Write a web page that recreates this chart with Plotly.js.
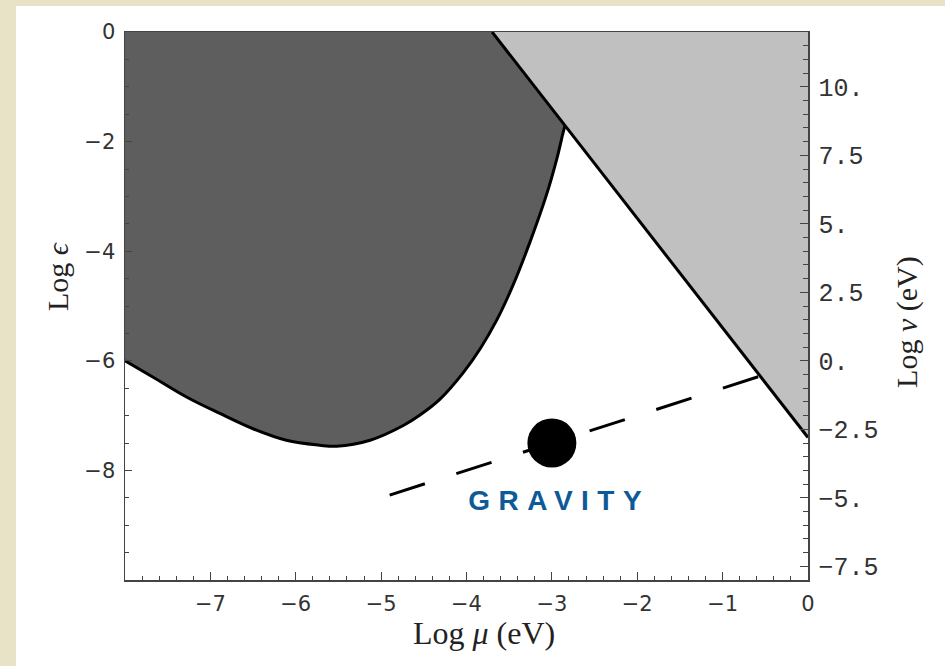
<!DOCTYPE html>
<html>
<head>
<meta charset="utf-8">
<script src="https://cdn.plot.ly/plotly-3.0.1.min.js"></script>
<style>
  html, body { margin: 0; padding: 0; width: 945px; height: 666px; overflow: hidden;
    background: #e8e3c7; }
  #chart { position: absolute; left: 16px; top: 6px; width: 929px; height: 660px; background: #fff; }
</style>
</head>
<body>
<div id="chart"></div>
<script>
// Boundary of the excluded (dark) region: Log mu vs Log epsilon
const curveMu  = [-8.00, -7.67, -7.28, -6.89, -6.50, -6.11, -5.72, -5.52, -5.13, -4.74, -4.545,
                  -4.31, -4.04, -3.84, -3.64, -3.455, -3.256, -3.057, -2.94, -2.864, -2.843];
const curveEps = [-6.00, -6.30, -6.66, -6.96, -7.24, -7.45, -7.54, -7.56, -7.45, -7.18, -6.99,
                  -6.70, -6.22, -5.78, -5.24, -4.62, -3.83, -2.94, -2.30, -1.81, -1.70];

// Diagonal bound and the light region to its right
const diagMu  = [-3.70, 0.00];
const diagEps = [0.00, -7.40];
const lightMu  = [-3.70, 0.00, 0.00];
const lightEps = [0.00, 0.00, -7.40];

// Gravity line and point
const gravLineMu  = [-4.90, -0.56];
const gravLineEps = [-8.45, -6.28];
const gravMu  = [-3.0];
const gravEps = [-7.5];
const gravLabel = 'GRAVITY';

// Axis ticks
const xTickVals = [-7, -6, -5, -4, -3, -2, -1, 0];
const xTickText = ['−7', '−6', '−5', '−4', '−3', '−2', '−1', '0'];
const yTickVals = [-8, -6, -4, -2, 0];
const yTickText = ['−8', '−6', '−4', '−2', '0'];
const vTickVals = [-7.5, -5, -2.5, 0, 2.5, 5, 7.5, 10];
const vTickText = ['−7.5', '−5.', '−2.5', '0.', '2.5', '5.', '7.5', '10.'];

const frame = '#444';
const tickFont = { family: 'DejaVu Sans, Arial, sans-serif', size: 21, color: '#333' };
const monoFont = { family: 'Liberation Mono, Courier New, monospace', size: 25, color: '#333' };
const serif = 'Liberation Serif, Times New Roman, serif';

const traces = [
  { x: curveMu, y: curveEps, type: 'scatter', mode: 'lines', fill: 'tozeroy',
    fillcolor: '#5e5e5e', line: { color: '#000', width: 3, shape: 'spline', smoothing: 1 },
    hoverinfo: 'skip', showlegend: false },
  { x: lightMu, y: lightEps, type: 'scatter', mode: 'lines', fill: 'toself',
    fillcolor: '#c0c0c0', line: { width: 0 }, hoverinfo: 'skip', showlegend: false },
  { x: diagMu, y: diagEps, type: 'scatter', mode: 'lines',
    line: { color: '#000', width: 3 }, hoverinfo: 'skip', showlegend: false },
  { x: gravLineMu, y: gravLineEps, type: 'scatter', mode: 'lines',
    line: { color: '#000', width: 3, dash: '37px,33px' }, hoverinfo: 'skip', showlegend: false },
  { x: gravMu, y: gravEps, type: 'scatter', mode: 'markers',
    marker: { color: '#000', size: 49, line: { width: 0 } }, hoverinfo: 'skip', showlegend: false },
  // placeholder so the Log v axis gets its own subplot
  { x: [null], y: [null], yaxis: 'y2', type: 'scatter', mode: 'markers',
    hoverinfo: 'skip', showlegend: false }
];

const layout = {
  width: 929, height: 660,
  margin: { l: 109, r: 137, t: 26, b: 86, pad: 0 },
  paper_bgcolor: '#fff', plot_bgcolor: '#fff',
  showlegend: false,
  xaxis: {
    range: [-8, 0], showgrid: false, zeroline: false,
    showline: true, mirror: true, linecolor: frame, linewidth: 1.5,
    tickmode: 'array', tickvals: xTickVals, ticktext: xTickText,
    ticks: 'inside', ticklen: 8, tickwidth: 1.2, tickcolor: frame,
    minor: { ticks: 'inside', dtick: 0.2, tick0: 0, ticklen: 4, tickwidth: 1, tickcolor: frame, showgrid: false },
    tickfont: tickFont, ticklabelstandoff: 4
  },
  yaxis: {
    range: [-10, 0], showgrid: false, zeroline: false,
    showline: true, mirror: true, linecolor: frame, linewidth: 1.5,
    tickmode: 'array', tickvals: yTickVals, ticktext: yTickText,
    ticks: 'inside', ticklen: 7, tickwidth: 1.2, tickcolor: frame,
    minor: { ticks: 'inside', dtick: 0.5, tick0: 0, ticklen: 4, tickwidth: 1, tickcolor: frame, showgrid: false },
    tickfont: tickFont, ticklabelstandoff: 4
  },
  yaxis2: {
    overlaying: 'y', side: 'right', anchor: 'x',
    range: [-8, 12], showgrid: false, zeroline: false,
    showline: true, linecolor: frame, linewidth: 1.5,
    tickmode: 'array', tickvals: vTickVals, ticktext: vTickText,
    ticks: 'inside', ticklen: 8, tickwidth: 1.2, tickcolor: frame,
    minor: { ticks: 'inside', dtick: 0.5, tick0: 0, ticklen: 5, tickwidth: 1, tickcolor: frame, showgrid: false },
    tickfont: monoFont, ticklabelstandoff: 4
  },
  annotations: [
    { text: 'Log <i>μ</i> (eV)', xref: 'paper', yref: 'paper', x: 0.5256, y: -0.0967,
      xanchor: 'center', yanchor: 'middle', showarrow: false,
      font: { family: serif, size: 32, color: '#222' } },
    { text: 'Log <i>ϵ</i>', xref: 'paper', yref: 'paper', x: -0.0996, y: 0.5547,
      xanchor: 'center', yanchor: 'middle', textangle: -90, showarrow: false,
      font: { family: serif, size: 30, color: '#222' } },
    { text: 'Log <i>v</i> (eV)', xref: 'paper', yref: 'paper', x: 1.145, y: 0.471,
      xanchor: 'center', yanchor: 'middle', textangle: -90, showarrow: false,
      font: { family: serif, size: 30, color: '#222' } },
    { text: gravLabel, xref: 'x', yref: 'y', x: -2.91, y: -8.55,
      xanchor: 'center', yanchor: 'middle', showarrow: false,
      font: { family: 'Liberation Sans, Arial, sans-serif', size: 28, weight: 'bold', color: '#0d5a97' } }
  ]
};

Plotly.newPlot('chart', traces, layout, { staticPlot: true }).then(function (gd) {
  // widen the letter spacing of the GRAVITY label
  gd.querySelectorAll('.annotation-text').forEach(function (t) {
    if (t.textContent === gravLabel) {
      t.setAttribute('letter-spacing', '8.5px');
      t.style.letterSpacing = '8.5px';
    }
  });
});
</script>
</body>
</html>
